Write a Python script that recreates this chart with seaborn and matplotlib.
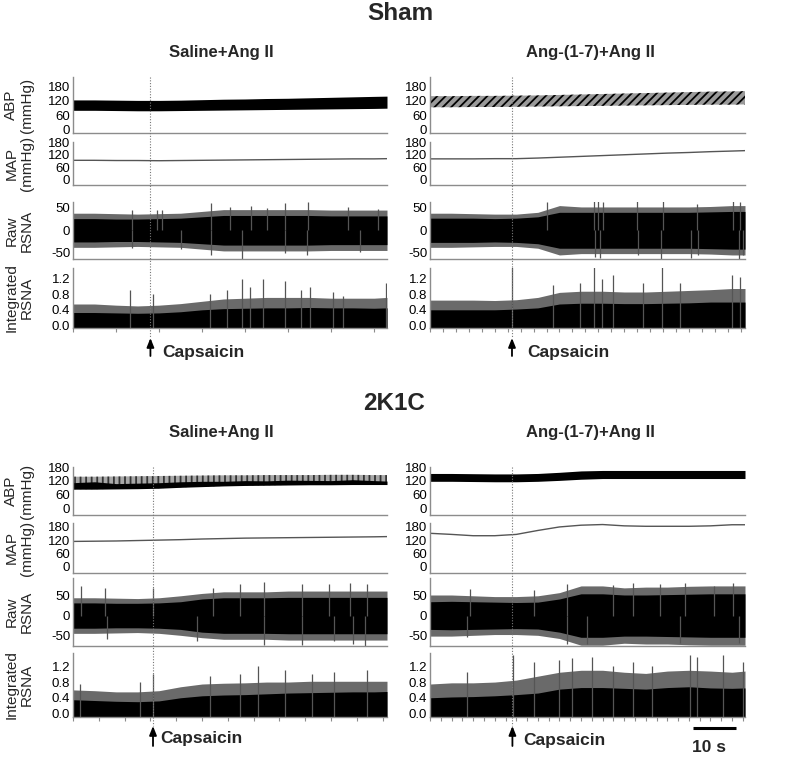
import matplotlib
matplotlib.use("Agg")
import matplotlib.pyplot as plt
import matplotlib.transforms as mtransforms
from matplotlib.lines import Line2D
import numpy as np
import seaborn as sns

T = [0, 5, 10, 15, 20, 25, 30, 35, 40, 45, 50, 55, 60, 65, 70, 73]

# ---- Sham, Saline+Ang II ----
SS_CAPS = 18.0
SS_ABP_HI = [124, 124, 123, 122, 122, 123, 125, 127, 128, 130, 131, 133, 135, 137, 139, 140]
SS_ABP_LO = [80, 80, 79, 78, 78, 79, 80, 81, 82, 83, 84, 85, 86, 87, 88, 89]
SS_MAP = [93, 93, 92, 92, 91, 92, 93, 94, 95, 96, 97, 98, 99, 100, 100, 101]
SS_RAW_CORE = [26, 26, 25, 25, 26, 27, 30, 33, 33, 33, 33, 33, 32, 32, 32, 32]
SS_RAW_EDGE = [38, 38, 37, 36, 37, 38, 42, 46, 46, 46, 46, 46, 45, 45, 45, 45]
SS_RAW_UP = [(13.7, 45), (19.5, 45), (20.6, 45), (32, 60), (36.5, 52), (41.3, 55),
             (45, 50), (49.3, 60), (54.7, 62), (64, 52), (71, 48)]
SS_RAW_DOWN = [(13.7, -40), (25, -42), (32, -55), (39.2, -65), (49.3, -50),
               (54.3, -55), (66.7, -48)]
SS_INT_CORE = [0.33, 0.33, 0.32, 0.31, 0.32, 0.35, 0.40, 0.43, 0.44, 0.45, 0.45, 0.46, 0.45, 0.45, 0.44, 0.45]
SS_INT_EDGE = [0.55, 0.55, 0.52, 0.50, 0.52, 0.56, 0.62, 0.68, 0.70, 0.72, 0.72, 0.72, 0.70, 0.70, 0.70, 0.72]
SS_INT_SPIKES = [(13.3, 0.9), (18.7, 0.8), (31.9, 0.8), (35.7, 0.9), (39.2, 1.2), (41.1, 1.0),
                 (44.2, 1.2), (49.3, 1.15), (53, 0.9), (55, 1.0), (60.5, 0.85), (62.8, 0.75), (72.8, 1.1)]

# ---- Sham, Ang-(1-7)+Ang II ----
SA_CAPS = 19.0
SA_ABP_HI = [140, 140, 141, 141, 142, 143, 145, 147, 149, 151, 153, 155, 157, 159, 160, 161]
SA_ABP_LO = [93, 93, 94, 94, 95, 96, 97, 98, 99, 100, 101, 102, 103, 104, 104, 105]
SA_MAP = [100, 100, 100, 101, 101, 104, 108, 112, 116, 120, 124, 128, 131, 135, 138, 140]
SA_RAW_CORE = [27, 27, 27, 26, 27, 30, 40, 40, 40, 40, 40, 40, 40, 41, 42, 42]
SA_RAW_EDGE = [38, 38, 37, 36, 36, 40, 55, 52, 52, 52, 52, 52, 52, 53, 55, 55]
SA_RAW_UP = [(27, 62), (37.9, 65), (39, 65), (40.2, 62), (47.9, 65), (54, 65),
             (61.8, 58), (70.3, 65), (71.8, 62)]
SA_RAW_DOWN = [(38.3, -60), (39.4, -62), (48.3, -55), (53.6, -65), (60.6, -62),
               (62.2, -55), (71.5, -65), (72.6, -55)]
SA_INT_CORE = [0.40, 0.40, 0.40, 0.40, 0.42, 0.45, 0.55, 0.57, 0.57, 0.56, 0.56, 0.57, 0.58, 0.60, 0.60, 0.60]
SA_INT_EDGE = [0.65, 0.65, 0.65, 0.64, 0.66, 0.72, 0.85, 0.88, 0.88, 0.86, 0.86, 0.88, 0.90, 0.92, 0.95, 0.95]
SA_INT_SPIKES = [(18.9, 1.5), (28.6, 1.05), (34.8, 1.1), (37.9, 1.5), (39.8, 1.2), (42.5, 1.3),
                 (49.4, 1.1), (53.7, 1.5), (57.9, 1.1), (69.9, 1.3), (71.8, 1.25)]

# ---- 2K1C, Saline+Ang II ----
KS_CAPS = 18.6
KS_ABP_HI = [138, 138, 139, 140, 141, 142, 143, 144, 144, 145, 145, 145, 146, 146, 145, 145]
KS_ABP_MID = [112, 116, 108, 110, 112, 116, 118, 118, 121, 120, 123, 122, 121, 125, 121, 119]
KS_ABP_LO = [84, 84, 85, 86, 88, 92, 95, 98, 100, 101, 102, 103, 103, 104, 104, 104]
KS_MAP = [114, 115, 116, 118, 120, 122, 125, 127, 129, 130, 131, 132, 133, 134, 135, 136]
KS_RAW_CORE = [32, 32, 31, 31, 32, 35, 42, 45, 45, 45, 46, 46, 46, 46, 46, 46]
KS_RAW_EDGE = [45, 45, 44, 43, 45, 50, 56, 60, 60, 60, 62, 62, 62, 62, 62, 62]
KS_RAW_UP = [(1.9, 75), (7.4, 70), (18.6, 70), (32.6, 70), (38.8, 80), (44.3, 85),
             (53.2, 80), (59.5, 80), (64.5, 82), (68.3, 80)]
KS_RAW_DOWN = [(7.8, -60), (28.8, -65), (44.3, -75), (53.2, -75), (60.6, -65),
               (65.2, -72), (68, -78)]
KS_INT_CORE = [0.35, 0.33, 0.31, 0.30, 0.32, 0.40, 0.45, 0.47, 0.48, 0.50, 0.52, 0.53, 0.54, 0.55, 0.55, 0.56]
KS_INT_EDGE = [0.60, 0.58, 0.55, 0.55, 0.58, 0.68, 0.75, 0.77, 0.78, 0.80, 0.80, 0.82, 0.82, 0.82, 0.82, 0.82]
KS_INT_SPIKES = [(1.6, 0.75), (15.5, 0.8), (18.6, 1.0), (31.8, 0.95), (38.8, 1.0), (43.1, 1.2),
                 (49.3, 1.1), (55.5, 1.0), (60.6, 1.05), (68.3, 1.1)]

# ---- 2K1C, Ang-(1-7)+Ang II ----
KA_CAPS = 19.1
KA_ABP_HI = [152, 152, 151, 150, 150, 152, 157, 163, 165, 165, 165, 165, 165, 165, 165, 165]
KA_ABP_LO = [118, 118, 117, 116, 116, 118, 122, 127, 130, 130, 130, 130, 130, 130, 130, 130]
KA_MAP = [151, 146, 140, 140, 146, 164, 180, 188, 191, 185, 183, 183, 183, 185, 190, 190]
KA_RAW_CORE = [35, 36, 35, 34, 33, 34, 42, 55, 55, 52, 52, 53, 54, 55, 55, 55]
KA_RAW_EDGE = [52, 52, 50, 48, 48, 50, 58, 75, 75, 70, 72, 72, 74, 75, 75, 75]
KA_RAW_UP = [(9.3, 68), (24, 65), (31.7, 80), (42.5, 78), (47.1, 82), (53.3, 80),
             (59.1, 82), (65.7, 75), (70.3, 82)]
KA_RAW_DOWN = [(8.5, -55), (31.7, -72), (36.3, -72), (57.9, -70), (71.5, -70)]
KA_INT_CORE = [0.40, 0.42, 0.43, 0.45, 0.48, 0.52, 0.62, 0.66, 0.66, 0.64, 0.62, 0.66, 0.68, 0.65, 0.64, 0.65]
KA_INT_EDGE = [0.75, 0.78, 0.78, 0.80, 0.85, 0.95, 1.05, 1.10, 1.10, 1.05, 1.02, 1.08, 1.10, 1.08, 1.05, 1.08]
KA_INT_SPIKES = [(8.5, 1.05), (19.2, 1.5), (24, 1.3), (30, 1.35), (32.8, 1.4), (37.5, 1.45),
                 (42.5, 1.2), (47.1, 1.3), (51.4, 1.2), (60.3, 1.5), (61.8, 1.45), (68, 1.5), (72.6, 1.3)]

GROUPS = ["Sham", "2K1C"]
TREATMENTS = ["Saline+Ang II", "Ang-(1-7)+Ang II"]
ROW_LABELS = ["ABP\n(mmHg)", "MAP\n(mmHg)", "Raw\nRSNA", "Integrated\nRSNA"]
PRESSURE_TICKS = [0, 60, 120, 180]
RAW_TICKS = [-50, 0, 50]
INT_TICKS = [0.0, 0.4, 0.8, 1.2]
SCALE_BAR_S = 10
SCALE_BAR_START = 61

W, H = 785, 757
GREY = "#8c8c8c"
FRINGE = "#6a6a6a"

sns.set_theme(style="white")
plt.rcParams["font.family"] = ["Liberation Sans", "DejaVu Sans"]
plt.rcParams["hatch.linewidth"] = 1.3

fig = plt.figure(figsize=(W / 100, H / 100), dpi=100)


def fx(x):
    return x / W


def fy(y):
    return 1 - y / H


def add_ax(x0, y0, x1, y1):
    return fig.add_axes([fx(x0), fy(y1), (x1 - x0) / W, (y1 - y0) / H])


def style(ax, ylim, ticks, fmt, xstep=None):
    ax.set_xlim(0, 73)
    ax.set_ylim(*ylim)
    ax.set_yticks(ticks)
    ax.set_yticklabels([fmt.format(v) for v in ticks])
    ax.tick_params(axis="y", length=0, pad=2, labelsize=9.5, colors="black")
    for s in ["top", "right"]:
        ax.spines[s].set_visible(False)
    for s in ["left", "bottom"]:
        ax.spines[s].set_color(GREY)
        ax.spines[s].set_linewidth(1.0)
    if xstep:
        ax.set_xticks(np.arange(0, 73.01, xstep))
        ax.tick_params(axis="x", length=3, width=0.8, color=GREY, labelbottom=False, bottom=True)
    else:
        ax.set_xticks([])
    ax.set_xlabel("")
    ax.set_ylabel("")
    ax.patch.set_alpha(0)


def spikes(ax, pairs, base=0, color="#555555"):
    ax.vlines([p[0] for p in pairs], base, [p[1] for p in pairs], color=color, lw=0.9)


def draw_column(x0, x1, rows, ylims, d, xstep, ylabels, caps, arrow_y, caps_text_xy):
    axes = [add_ax(x0, r[0], x1, r[1]) for r in rows]
    a_abp, a_map, a_raw, a_int = axes

    # arterial pressure
    kind = d["abp_kind"]
    if kind == "hatch":
        a_abp.fill_between(T, d["abp_lo"], d["abp_hi"], facecolor="#9a9a9a",
                           edgecolor="black", hatch="////", linewidth=0)
    elif kind == "striped":
        a_abp.fill_between(T, d["abp_lo"], d["abp_hi"], facecolor="#a8a8a8",
                           edgecolor="#333333", hatch="|||", linewidth=0)
        a_abp.fill_between(T, d["abp_lo"], d["abp_mid"], color="black", linewidth=0)
    else:
        a_abp.fill_between(T, d["abp_lo"], d["abp_hi"], color="black", linewidth=0)
    style(a_abp, ylims[0], PRESSURE_TICKS, "{:d}")

    # mean arterial pressure
    sns.lineplot(x=T, y=d["map"], ax=a_map, color="#555555", lw=1.0)
    style(a_map, ylims[1], PRESSURE_TICKS, "{:d}")

    # raw RSNA
    edge = np.array(d["raw_edge"])
    core = np.array(d["raw_core"])
    a_raw.fill_between(T, -edge, edge, color=FRINGE, linewidth=0)
    spikes(a_raw, d["raw_up"])
    spikes(a_raw, d["raw_down"])
    a_raw.fill_between(T, -core, core, color="black", linewidth=0)
    style(a_raw, ylims[2], RAW_TICKS, "{:d}")

    # integrated RSNA
    base = ylims[3][0]
    a_int.fill_between(T, base, d["int_edge"], color=FRINGE, linewidth=0)
    spikes(a_int, d["int_spikes"], base=base)
    a_int.fill_between(T, base, d["int_core"], color="black", linewidth=0)
    style(a_int, ylims[3], INT_TICKS, "{:.1f}", xstep=xstep)

    if ylabels:
        for lab, r in zip(ROW_LABELS, rows):
            fig.text(fx(19), fy((r[0] + r[1]) / 2), lab, rotation=90, ha="center",
                     va="center", fontsize=11, linespacing=1.1, multialignment="center")

    # capsaicin marker: dotted line through all traces + arrow
    blend = mtransforms.blended_transform_factory(a_abp.transData, fig.transFigure)
    fig.add_artist(Line2D([caps, caps], [fy(rows[0][0]), fy(arrow_y[0])], transform=blend,
                          ls=(0, (1, 1.5)), color="#777777", lw=0.8))
    a_int.annotate("", xy=(caps, fy(arrow_y[0])), xycoords=blend,
                   xytext=(caps, fy(arrow_y[1])), textcoords=blend,
                   arrowprops=dict(arrowstyle="-|>,head_length=0.45,head_width=0.18",
                                   color="black", lw=1.3, shrinkA=0, shrinkB=0),
                   annotation_clip=False)
    fig.text(fx(caps_text_xy[0]), fy(caps_text_xy[1]), "Capsaicin", fontsize=12.5,
             fontweight="bold", ha="left", va="center")
    return axes


TOP_ROWS = [(77, 133), (142, 185), (202, 259), (268, 328)]
BOT_ROWS = [(467, 515), (523, 573), (578, 646), (653, 717)]
TOP_YLIMS = [(-16, 221), (-27, 182), (-64, 63), (-0.07, 1.48)]
BOT_YLIMS = [(-28, 176), (-30, 198), (-77, 95), (-0.09, 1.54)]

ss = dict(abp_kind="solid", abp_hi=SS_ABP_HI, abp_lo=SS_ABP_LO, map=SS_MAP,
          raw_core=SS_RAW_CORE, raw_edge=SS_RAW_EDGE, raw_up=SS_RAW_UP, raw_down=SS_RAW_DOWN,
          int_core=SS_INT_CORE, int_edge=SS_INT_EDGE, int_spikes=SS_INT_SPIKES)
sa = dict(abp_kind="hatch", abp_hi=SA_ABP_HI, abp_lo=SA_ABP_LO, map=SA_MAP,
          raw_core=SA_RAW_CORE, raw_edge=SA_RAW_EDGE, raw_up=SA_RAW_UP, raw_down=SA_RAW_DOWN,
          int_core=SA_INT_CORE, int_edge=SA_INT_EDGE, int_spikes=SA_INT_SPIKES)
ks = dict(abp_kind="striped", abp_hi=KS_ABP_HI, abp_mid=KS_ABP_MID, abp_lo=KS_ABP_LO, map=KS_MAP,
          raw_core=KS_RAW_CORE, raw_edge=KS_RAW_EDGE, raw_up=KS_RAW_UP, raw_down=KS_RAW_DOWN,
          int_core=KS_INT_CORE, int_edge=KS_INT_EDGE, int_spikes=KS_INT_SPIKES)
ka = dict(abp_kind="solid", abp_hi=KA_ABP_HI, abp_lo=KA_ABP_LO, map=KA_MAP,
          raw_core=KA_RAW_CORE, raw_edge=KA_RAW_EDGE, raw_up=KA_RAW_UP, raw_down=KA_RAW_DOWN,
          int_core=KA_INT_CORE, int_edge=KA_INT_EDGE, int_spikes=KA_INT_SPIKES)

draw_column(73, 387, TOP_ROWS, TOP_YLIMS, ss, 10, True, SS_CAPS, (338, 356), (162, 353))
draw_column(430, 745, TOP_ROWS, TOP_YLIMS, sa, 3, False, SA_CAPS, (338, 356), (527, 353))
draw_column(73, 387, BOT_ROWS, BOT_YLIMS, ks, 6, True, KS_CAPS, (726, 746), (160, 738))
br = draw_column(430, 745, BOT_ROWS, BOT_YLIMS, ka, 2.5, False, KA_CAPS, (726, 746), (523, 741))

# group and treatment titles
fig.text(fx(400), fy(14), GROUPS[0], fontsize=17.5, fontweight="bold", ha="center", va="center")
fig.text(fx(394), fy(404), GROUPS[1], fontsize=17.5, fontweight="bold", ha="center", va="center")
for ytitle in (53, 432):
    fig.text(fx(221), fy(ytitle), TREATMENTS[0], fontsize=12, fontweight="bold", ha="center", va="center")
    fig.text(fx(590), fy(ytitle), TREATMENTS[1], fontsize=12, fontweight="bold", ha="center", va="center")

# 10 s scale bar under the last panel
bar_tr = mtransforms.blended_transform_factory(br[3].transData, fig.transFigure)
fig.add_artist(Line2D([SCALE_BAR_START, SCALE_BAR_START + SCALE_BAR_S], [fy(728), fy(728)],
                      transform=bar_tr, color="black", lw=2.2, solid_capstyle="butt"))
fig.text(fx(709), fy(747), f"{SCALE_BAR_S} s", fontsize=12.5, fontweight="bold", ha="center", va="center")

fig.savefig("out.png", dpi=100, facecolor="white")
